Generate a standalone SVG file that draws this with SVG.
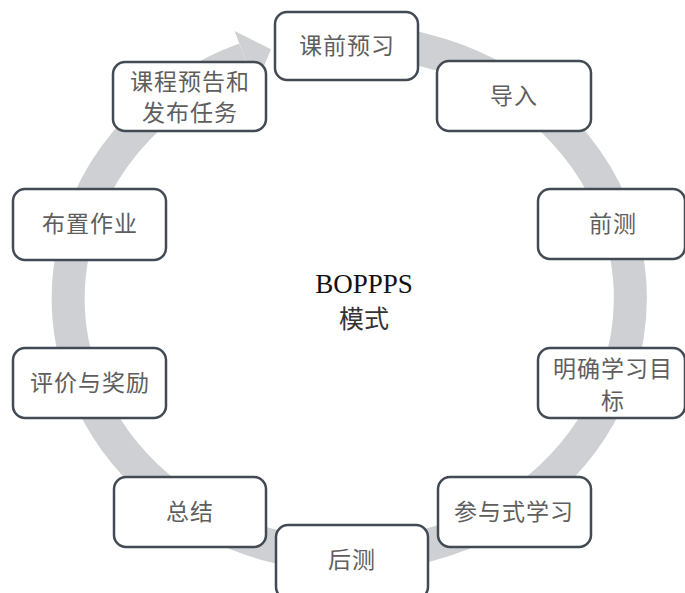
<svg xmlns="http://www.w3.org/2000/svg" width="685" height="593" viewBox="0 0 685 593">
<style>
.ring{fill:none;stroke:#cfd0d3;stroke-width:33}
.head{fill:#cfd0d3}
.box{fill:#ffffff;stroke:#424a54;stroke-width:2.5}
.t{font-family:"Noto Sans CJK SC","Noto Sans",sans-serif;font-size:23px;fill:#5e5e5e;text-anchor:middle;letter-spacing:1px}
.c1{font-family:"Liberation Serif","Times New Roman",serif;font-size:27px;fill:#111111;text-anchor:middle}
.c2{font-family:"Noto Sans CJK SC",sans-serif;font-size:25px;fill:#333333;text-anchor:middle}
</style>
<rect width="685" height="593" fill="#ffffff"/>
<g id="connectors">
<path class="ring" d="M310,43.1 A281,257.5 0 1 1 244.9,59"/>
<polygon class="head" points="234.6,30.9 271,49.3 255.4,87.1"/>
</g>
<g id="center">
<text class="c1" x="364" y="293">BOPPPS</text>
<text class="c2" x="364" y="328">模式</text>
</g>
<g id="n1"><rect class="box" x="275" y="12" width="143" height="68" rx="12"/><text class="t" x="347" y="54">课前预习</text></g>
<g id="n2"><rect class="box" x="437" y="61" width="154" height="70" rx="12"/><text class="t" x="514" y="104">导入</text></g>
<g id="n3"><rect class="box" x="538" y="189" width="147" height="70" rx="12"/><text class="t" x="613" y="232">前测</text></g>
<g id="n4"><rect class="box" x="538" y="348" width="147" height="70" rx="12"/><text class="t" x="613" y="377">明确学习目</text><text class="t" x="613" y="409">标</text></g>
<g id="n5"><rect class="box" x="438" y="477" width="153" height="70" rx="12"/><text class="t" x="514" y="520">参与式学习</text></g>
<g id="n6"><rect class="box" x="276" y="525" width="152" height="74" rx="12"/><text class="t" x="352" y="568">后测</text></g>
<g id="n7"><rect class="box" x="114" y="477" width="152" height="70" rx="12"/><text class="t" x="190" y="520">总结</text></g>
<g id="n8"><rect class="box" x="13" y="348" width="153" height="70" rx="12"/><text class="t" x="90" y="391">评价与奖励</text></g>
<g id="n9"><rect class="box" x="13" y="189" width="153" height="71" rx="12"/><text class="t" x="90" y="232">布置作业</text></g>
<g id="n10"><rect class="box" x="113" y="62" width="153" height="69" rx="12"/><text class="t" x="190" y="90">课程预告和</text><text class="t" x="190" y="121">发布任务</text></g>
</svg>
